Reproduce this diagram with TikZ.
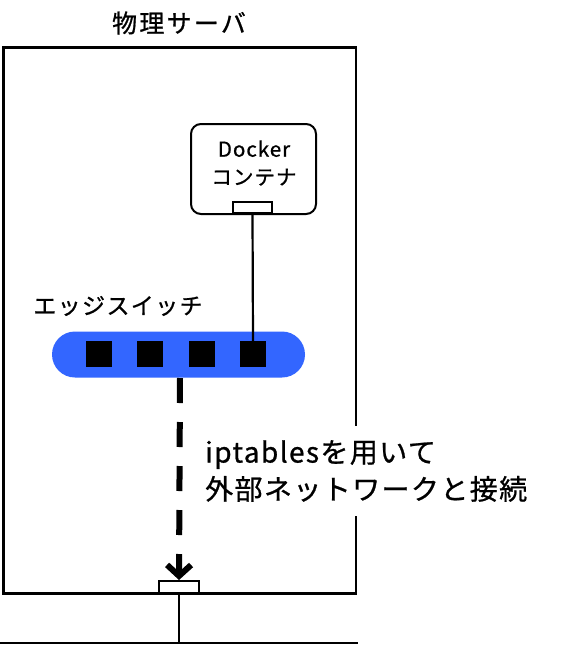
\documentclass[tikz,border=0pt]{standalone}
\usepackage{fontspec}
\setmainfont{Noto Sans CJK JP}
\newfontfamily\jpA[LetterSpace=9,FakeBold=0.8]{Noto Sans CJK JP}
\newfontfamily\jpB[LetterSpace=5,FakeBold=0.8]{Noto Sans CJK JP}
\newfontfamily\jpC[LetterSpace=6,FakeBold=0.8]{Noto Sans CJK JP}
\newfontfamily\jpD[LetterSpace=5,FakeBold=0.8]{Noto Sans CJK JP}
\usetikzlibrary{arrows.meta}
\definecolor{swblue}{HTML}{3366FF}
\tikzset{
  portbox/.style={draw=black, line width=2pt, fill=white, inner sep=0pt},
  sq/.style={fill=black, minimum width=26pt, minimum height=26pt, inner sep=0pt},
  lbl/.style={inner sep=0pt, font=\jpA\fontsize{25}{30}\selectfont},
  wire/.style={line width=2.2pt},
}
\begin{document}
\begin{tikzpicture}[x=1pt,y=-1pt]
\useasboundingbox (0,0) rectangle (588,646);
% server
\node[draw=black, line width=2.5pt, minimum width=352.5pt, minimum height=546pt, inner sep=0pt] (server) at (179.75,320.5) {};
\node[lbl] (title) at (179,23) {物理サーバ};
% docker
\node[draw=black, line width=2pt, rounded corners=10pt, minimum width=125pt, minimum height=90pt, inner sep=0pt] (docker) at (253.5,169) {};
\node[inner sep=0pt, align=center, font=\jpB\fontsize{20.5}{28}\selectfont] (dtext) at (254,163) {Docker\\コンテナ};
\node[portbox, minimum width=39pt, minimum height=11pt] (dport) at (252.5,207.5) {};
% switch
\node[inner sep=0pt, font=\jpC\fontsize{23}{26}\selectfont] (swlabel) at (118,306) {エッジスイッチ};
\node[fill=swblue, rounded corners=23pt, minimum width=253pt, minimum height=46pt, inner sep=0pt] (sw) at (178.5,354.5) {};
\node[sq] (p1) at (99,354) {};
\node[sq] (p2) at (150,354) {};
\node[sq] (p3) at (202,354) {};
\node[sq] (p4) at (253,354) {};
\draw[wire] (dport.south) -- (p4.north);
% bottom port and network
\node[portbox, minimum width=40pt, minimum height=12pt] (bport) at (179,587) {};
\coordinate (netL) at (0,643);
\coordinate (netR) at (358,643);
\coordinate (netT) at (179,643);
\draw[line width=2.5pt] (netL) -- (netR);
\draw[wire] (bport.south) -- (netT);
% text
\node[fill=white, inner sep=0pt, minimum height=90pt, anchor=west, align=left, font=\jpD\fontsize{28}{37}\selectfont] (note) at (205,471) {iptablesを用いて\\外部ネットワークと接続};
% arrow
\coordinate (arrS) at (180,378);
\draw[line width=6pt, dash pattern=on 25pt off 19pt, -{Straight Barb[length=11pt,width=24pt]}] (arrS) -- (bport.north);
\end{tikzpicture}
\end{document}
